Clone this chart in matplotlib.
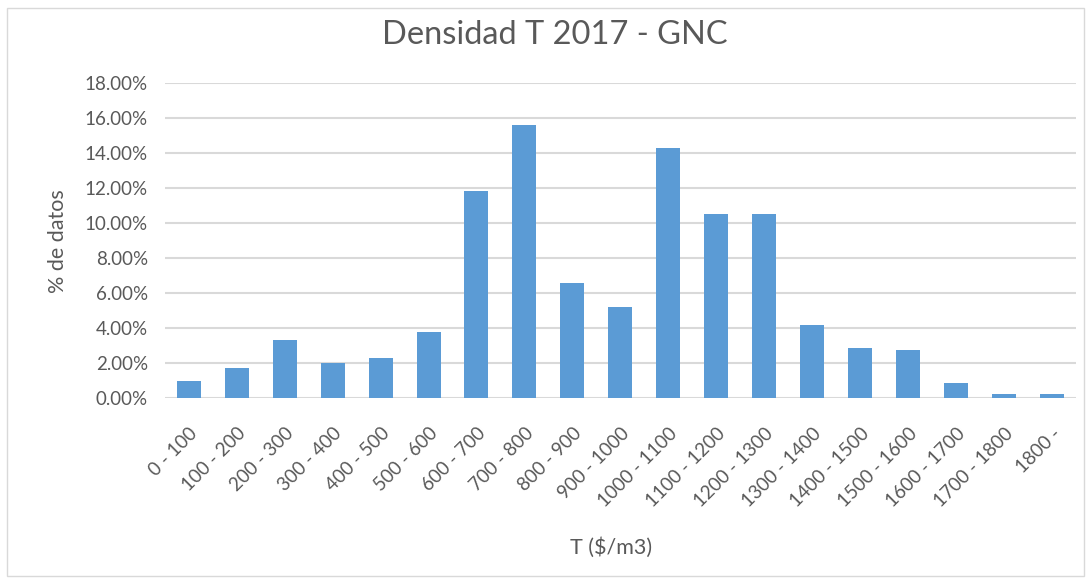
import matplotlib
matplotlib.use("Agg")
import matplotlib.pyplot as plt
from matplotlib.ticker import FuncFormatter, MultipleLocator

plt.rcParams["font.family"] = ["Lato", "DejaVu Sans"]

# tarifa por rangos de $/m3, fraccion de datos en %
rangos = ["0 - 100", "100 - 200", "200 - 300", "300 - 400", "400 - 500",
          "500 - 600", "600 - 700", "700 - 800", "800 - 900", "900 - 1000",
          "1000 - 1100", "1100 - 1200", "1200 - 1300", "1300 - 1400",
          "1400 - 1500", "1500 - 1600", "1600 - 1700", "1700 - 1800", "1800 -"]
porcentaje = [1.00, 1.71, 3.33, 2.00, 2.32, 3.77, 11.85, 15.63, 6.57, 5.23,
              14.32, 10.51, 10.51, 4.21, 2.89, 2.76, 0.86, 0.26, 0.26]

GRIS = "#595959"
AZUL = "#5B9BD5"

fig = plt.figure(figsize=(10.88, 5.78), dpi=100)
fig.patch.set_facecolor("white")
# marco del grafico
fig.add_artist(plt.Rectangle((0.006, 0.004), 0.99, 0.982, transform=fig.transFigure,
                             fill=False, edgecolor="#D9D9D9", lw=1))

ax = fig.add_axes([0.1514, 0.311, 0.8376, 0.545])
x = range(len(rangos))
ax.bar(x, porcentaje, width=0.5, color=AZUL, zorder=3)

ax.set_xlim(-0.5, len(rangos) - 0.5)
ax.set_ylim(0, 18)
ax.yaxis.set_major_locator(MultipleLocator(2))
ax.yaxis.set_major_formatter(FuncFormatter(lambda v, _: f"{v:.2f}%"))
ax.grid(axis="y", color="#D9D9D9", lw=1.5, zorder=0)
for s in ax.spines.values():
    s.set_visible(False)
ax.tick_params(axis="both", length=0, colors=GRIS, labelsize=13.5)
ax.tick_params(axis="y", pad=12)
ax.set_xticks(list(x))
ax.set_xticklabels(rangos, rotation=45, ha="right", rotation_mode="anchor")
ax.tick_params(axis="x", pad=19)

ax.set_ylabel("% de datos", color=GRIS, fontsize=15.5, labelpad=12)
ax.set_xlabel("T ($/m3)", color=GRIS, fontsize=15.5)
ax.xaxis.set_label_coords(0.49, -0.44)
fig.text(0.51, 0.94, "Densidad T 2017 - GNC", ha="center", va="center",
         color=GRIS, fontsize=23.5)

fig.savefig("out.png", dpi=100)
